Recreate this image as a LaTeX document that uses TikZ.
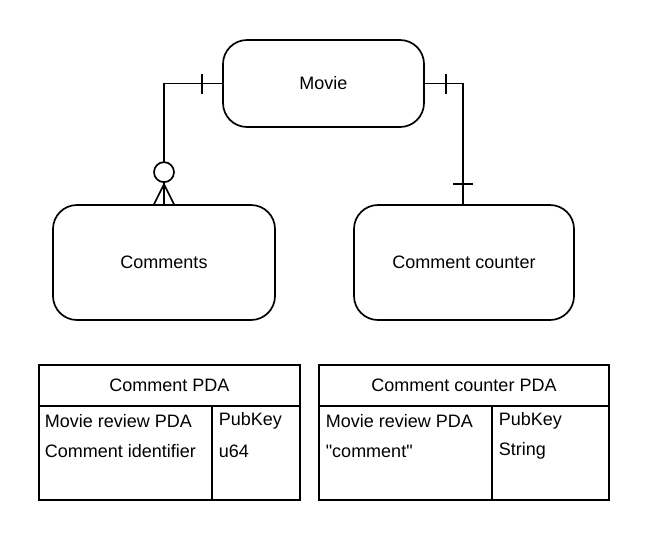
\documentclass[tikz,border=0pt]{standalone}
\usepackage{fontspec}
\setmainfont{Liberation Sans}[Ligatures=TeXOff]
\usetikzlibrary{positioning,calc}

\tikzset{
  entity/.style={draw, rounded corners=24pt, align=center},
  cell/.style={anchor=west, inner sep=0pt},
  title/.style={inner sep=0pt}
}

\begin{document}
\begin{tikzpicture}[x=1pt, y=-1pt, line width=1.7pt, font=\fontsize{18}{21}\selectfont]
  \useasboundingbox (0,0) rectangle (650,542);

  % entities
  \node[entity, minimum width=201pt, minimum height=87pt] (movie) at (323.5,83.5) {Movie};
  \node[entity, minimum width=222pt, minimum height=115pt] (comments) at (164,262.5) {Comments};
  \node[entity, minimum width=220pt, minimum height=115pt] (counter) at (464,262.5) {Comment counter};

  % movie -- comments : one to zero-or-many
  \draw (movie.west) -| (comments.north);
  \draw ($(movie.west)+(-20,-10)$) -- ++(0,20);
  \draw[fill=white] ($(comments.north)+(0,-32)$) circle (10pt);
  \coordinate (foot) at ($(comments.north)+(0,-20)$);
  \draw (foot) -- ($(comments.north)+(-10,0)$)
        (foot) -- ($(comments.north)+(10,0)$);

  % movie -- counter : one to one
  \coordinate (bend) at ($(counter.north)+(-1,0)$);
  \draw (movie.east) -| (bend);
  \draw ($(movie.east)+(21,-10)$) -- ++(0,20);
  \draw ($(bend)+(-10,-20)$) -- ++(20,0);

  % comment pda
  \draw (39,365) rectangle (300,406);
  \draw (39,406) rectangle (300,500);
  \draw (212,406) -- (212,500);
  \node[title] (cpda) at (169.5,385) {Comment PDA};
  \node[cell] (cpda-1-1) at (44,421) {Movie review PDA};
  \node[cell] (cpda-2-1) at (44,451) {Comment identifier};
  \node[cell] (cpda-1-2) at (218,421) {PubKey};
  \node[cell] (cpda-2-2) at (218,451) {u64};

  % comment counter pda
  \draw (319,365) rectangle (609,406);
  \draw (319,406) rectangle (609,500);
  \draw (492,406) -- (492,500);
  \node[title] (ccpda) at (464,385) {Comment counter PDA};
  \node[cell] (ccpda-1-1) at (325,421) {Movie review PDA};
  \node[cell] (ccpda-2-1) at (325,451) {"comment"};
  \node[cell] (ccpda-1-2) at (498,421) {PubKey};
  \node[cell] (ccpda-2-2) at (498,451) {String};
\end{tikzpicture}
\end{document}
